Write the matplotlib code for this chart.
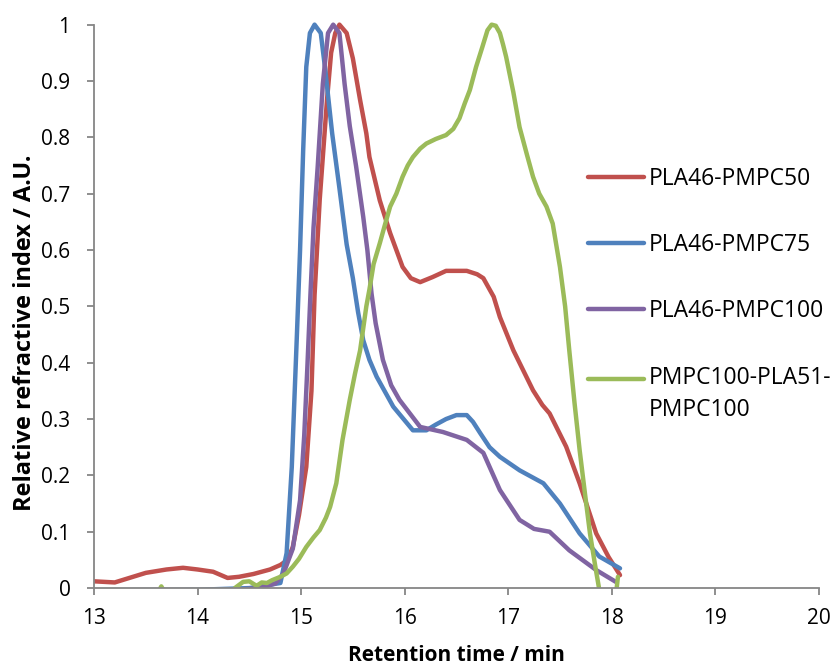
import matplotlib
matplotlib.use("Agg")
import matplotlib.pyplot as plt
from matplotlib.patches import Rectangle
from matplotlib.ticker import FormatStrFormatter

# retention time (min) / normalised RI signal
red_x = [13.0, 13.2, 13.5, 13.7, 13.86, 14.0, 14.15, 14.29, 14.4, 14.54, 14.7, 14.8, 14.87,
         14.92, 14.98, 15.05, 15.1, 15.13, 15.18, 15.25, 15.29, 15.33, 15.37, 15.44,
         15.5, 15.57, 15.63, 15.66, 15.76, 15.86, 15.98, 16.06, 16.15, 16.27, 16.4, 16.6,
         16.7, 16.76, 16.86, 16.92, 17.05, 17.24, 17.33, 17.4, 17.56, 17.69, 17.85, 17.97, 18.08]
red_y = [0.012, 0.01, 0.027, 0.033, 0.036, 0.033, 0.029, 0.018, 0.02, 0.025, 0.033, 0.041, 0.05,
         0.073, 0.13, 0.215, 0.35, 0.52, 0.69, 0.866, 0.95, 0.985, 1.0, 0.985,
         0.94, 0.866, 0.807, 0.765, 0.688, 0.63, 0.57, 0.55, 0.543, 0.552, 0.563, 0.563,
         0.557, 0.55, 0.517, 0.481, 0.422, 0.351, 0.325, 0.31, 0.251, 0.186, 0.097, 0.055, 0.023]

blue_x = [13.0, 14.0, 14.5, 14.8, 14.86, 14.91, 14.96, 14.99, 15.02, 15.05, 15.085, 15.13,
          15.19, 15.23, 15.3, 15.37, 15.44, 15.5, 15.55, 15.6, 15.66, 15.73, 15.89, 16.08, 16.21,
          16.3, 16.4, 16.5, 16.6, 16.66, 16.73, 16.82, 16.92, 17.11, 17.34, 17.5, 17.69, 17.88, 18.08]
blue_y = [-0.004, -0.003, 0.0, 0.009, 0.062, 0.215, 0.452, 0.6, 0.777, 0.925, 0.985, 1.0,
          0.985, 0.925, 0.807, 0.71, 0.61, 0.55, 0.49, 0.44, 0.405, 0.375, 0.322, 0.28, 0.28,
          0.29, 0.3, 0.307, 0.307, 0.295, 0.275, 0.25, 0.233, 0.209, 0.186, 0.15, 0.097, 0.056, 0.035]

purple_x = [14.3, 14.6, 14.75, 14.83, 14.92, 14.99, 15.03, 15.06, 15.09, 15.12, 15.16, 15.21,
            15.26, 15.31, 15.37, 15.42, 15.47, 15.53, 15.6, 15.64, 15.68, 15.72, 15.79, 15.87,
            15.95, 16.15, 16.37, 16.6, 16.76, 16.92, 17.11, 17.25, 17.4, 17.59, 17.85, 18.04]
purple_y = [-0.004, 0.0, 0.008, 0.026, 0.07, 0.156, 0.27, 0.39, 0.52, 0.64, 0.747, 0.895,
            0.985, 1.0, 0.985, 0.895, 0.82, 0.75, 0.659, 0.6, 0.523, 0.47, 0.405, 0.36,
            0.334, 0.286, 0.277, 0.263, 0.24, 0.174, 0.121, 0.105, 0.1, 0.067, 0.032, 0.011]

green_x = [13.55, 13.65, 13.75, 14.3, 14.36, 14.44, 14.5, 14.57, 14.62, 14.67, 14.72, 14.8,
           14.86, 14.92, 14.98, 15.05, 15.12, 15.18, 15.24, 15.28, 15.34, 15.4, 15.47, 15.52,
           15.57, 15.63, 15.66, 15.7, 15.76, 15.81, 15.86, 15.92, 15.98, 16.03, 16.08, 16.15,
           16.21, 16.3, 16.4, 16.47, 16.53, 16.58, 16.63, 16.69, 16.75, 16.8, 16.84, 16.88,
           16.92, 16.95, 16.98, 17.05, 17.11, 17.18, 17.24, 17.3, 17.37, 17.43, 17.5, 17.55,
           17.59, 17.64, 17.69, 17.74, 17.79, 17.84, 17.88, 17.92, 18.03, 18.06]
green_y = [-0.03, 0.003, -0.03, -0.03, 0.0, 0.011, 0.012, 0.004, 0.01, 0.009, 0.014, 0.02,
           0.026, 0.038, 0.052, 0.073, 0.09, 0.103, 0.125, 0.144, 0.186, 0.263, 0.334, 0.38,
           0.422, 0.5, 0.53, 0.575, 0.612, 0.645, 0.677, 0.7, 0.73, 0.75, 0.765, 0.78,
           0.789, 0.797, 0.804, 0.815, 0.834, 0.86, 0.884, 0.925, 0.96, 0.99, 1.0, 0.998,
           0.985, 0.965, 0.943, 0.88, 0.818, 0.77, 0.73, 0.7, 0.677, 0.647, 0.57, 0.5,
           0.422, 0.33, 0.245, 0.17, 0.097, 0.04, -0.003, -0.03, -0.03, 0.02]

labels = ["PLA46-PMPC50", "PLA46-PMPC75", "PLA46-PMPC100", "PMPC100-PLA51-\nPMPC100"]
colors = ["#C0504D", "#4F81BD", "#8064A2", "#9BBB59"]
xticks = [13, 14, 15, 16, 17, 18, 19, 20]
yticks = [0, 0.1, 0.2, 0.3, 0.4, 0.5, 0.6, 0.7, 0.8, 0.9, 1.0]

plt.rcParams['font.family'] = ['Open Sans', 'DejaVu Sans']
fig = plt.figure(figsize=(8.35, 6.66), dpi=100)
ax = fig.add_axes([0.1126, 0.117, 0.868, 0.846])

series = [(red_x, red_y), (blue_x, blue_y), (purple_x, purple_y), (green_x, green_y)]
clip = Rectangle((0, 0), 1, 1.1, transform=ax.transAxes, visible=False)
ax.add_patch(clip)
for (xs, ys), c, lab in zip(series, colors, labels):
    ln, = ax.plot(xs, ys, color=c, lw=3.2, label=lab, solid_capstyle='round',
                  solid_joinstyle='round')
    ln.set_clip_path(clip)

ax.set_xlim(13, 20)
ax.set_ylim(0, 1)
ax.set_xticks(xticks)
ax.set_yticks(yticks)
ax.yaxis.set_major_formatter(FormatStrFormatter('%g'))
for s in ['top', 'right']:
    ax.spines[s].set_visible(False)
for s in ['left', 'bottom']:
    ax.spines[s].set_color('#868686')
    ax.spines[s].set_linewidth(1.3)
ax.tick_params(colors='#868686', labelcolor='black', labelsize=15, length=5, width=1.3)
ax.tick_params(axis='x', pad=9)
ax.tick_params(axis='y', pad=12)

ax.set_xlabel('Retention time / min', fontsize=15, fontweight='bold', labelpad=12)
ax.set_ylabel('Relative refractive index / A.U.', fontsize=17, fontweight='bold')
ax.yaxis.set_label_coords(-0.079, 0.454)

leg = ax.legend(loc='upper left', bbox_to_anchor=(0.681, 0.748), frameon=False, fontsize=16.5,
                handlelength=2.45, handletextpad=0.22, labelspacing=1.85,
                borderpad=0, borderaxespad=0)
for t in leg.get_texts():
    t.set_linespacing(1.45)
# put the last handle level with the first line of its two-line label
h = leg.legend_handles[3]
h.set_ydata([y + 11.5 for y in h.get_ydata()])

fig.savefig('out.png', dpi=100)
